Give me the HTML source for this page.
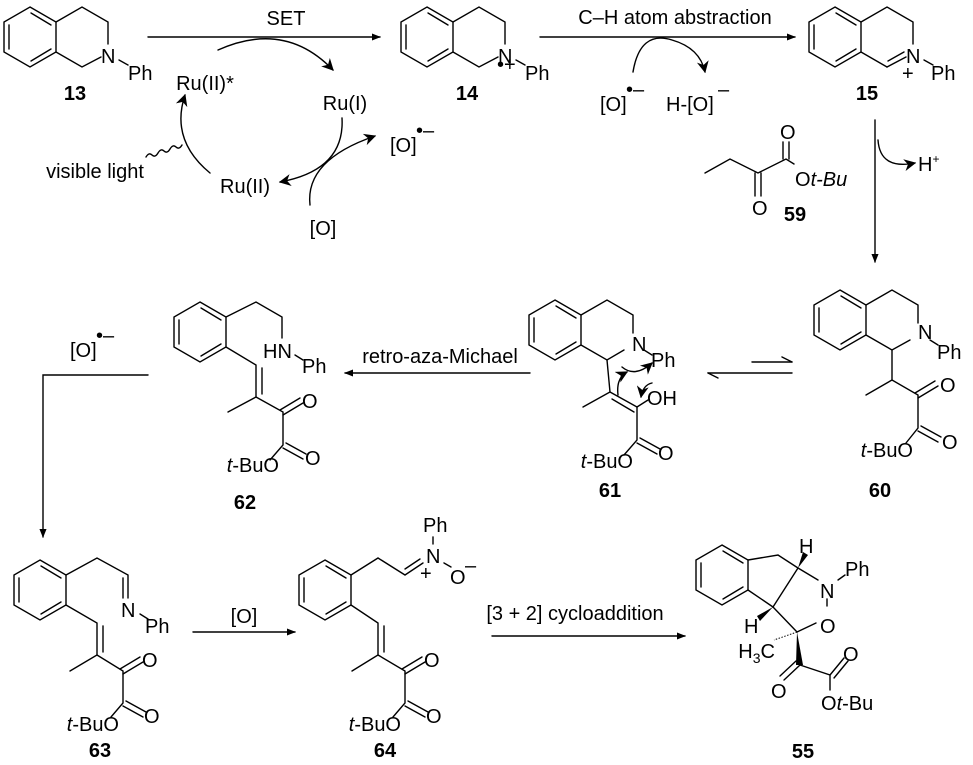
<!DOCTYPE html>
<html><head><meta charset="utf-8"><style>
html,body{margin:0;padding:0;background:#fff}
svg{display:block}
text{font-family:"Liberation Sans",Arial,sans-serif;font-size:20px;fill:#000}
.b{font-weight:bold}
</style></head><body>
<svg width="973" height="765" viewBox="0 0 973 765" xmlns="http://www.w3.org/2000/svg">
<defs>
<marker id="ah" viewBox="0 0 10 10" refX="9" refY="5" markerWidth="9" markerHeight="9" markerUnits="userSpaceOnUse" orient="auto"><path d="M0,1 L10,5 L0,9 z" fill="#000"/></marker>
<marker id="ac" viewBox="0 0 10 10" refX="9" refY="5" markerWidth="14" markerHeight="12" markerUnits="userSpaceOnUse" orient="auto"><path d="M0,0 L10,5 L0,10 L3,5 z" fill="#000"/></marker>
</defs>
<g stroke="#000" stroke-width="1.4" fill="none" stroke-linecap="round">
<!-- 13 -->
<polygon points="30,7 56,22 56,52 30,67 4,52 4,22"/>
<line x1="9" y1="25" x2="9" y2="49"/><line x1="31" y1="13" x2="51" y2="25"/><line x1="31" y1="61" x2="51" y2="49"/>
<polyline points="56,22 82,7 108,22 108,44"/><polyline points="56,52 82,67 101,57"/>
<line x1="119" y1="60" x2="128" y2="65"/>
<line x1="148" y1="37" x2="380" y2="37" marker-end="url(#ah)"/>
<path d="M218,50 Q285,20 333,70" marker-end="url(#ac)"/>
<path d="M342,118 Q345,170 280,182" marker-end="url(#ac)"/>
<path d="M210,173 Q170,140 185,95" marker-end="url(#ac)"/>
<path d="M310,205 Q305,160 375,136" marker-end="url(#ac)"/>
<path d="M146,157 q3,-5 6,-2 t6,-2 t6,-2 t6,-2 t6,-2 t6,-2"/>
<!-- 14 -->
<polygon points="427,7 453,22 453,52 427,67 401,52 401,22"/>
<line x1="406" y1="25" x2="406" y2="49"/><line x1="428" y1="13" x2="448" y2="25"/><line x1="428" y1="61" x2="448" y2="49"/>
<polyline points="453,22 479,7 505,22 505,44"/><polyline points="453,52 479,67 498,57"/>
<line x1="516" y1="60" x2="525" y2="65"/>
<line x1="540" y1="37" x2="795" y2="37" marker-end="url(#ah)"/>
<path d="M633,72 Q640,30 672,40 Q700,48 705,72" marker-end="url(#ac)"/>
<!-- 15 -->
<polygon points="835,7 861,22 861,52 835,67 809,52 809,22"/>
<line x1="814" y1="25" x2="814" y2="49"/><line x1="836" y1="13" x2="856" y2="25"/><line x1="836" y1="61" x2="856" y2="49"/>
<polyline points="861,22 887,7 913,22 913,44"/><line x1="861" y1="52" x2="887" y2="67"/>
<line x1="887" y1="67" x2="906" y2="57"/><line x1="888" y1="61" x2="904" y2="52"/>
<line x1="924" y1="60" x2="933" y2="65"/>
<line x1="875" y1="120" x2="875" y2="262" marker-end="url(#ah)"/>
<path d="M878,140 Q880,170 915,163" marker-end="url(#ac)"/>
<!-- 59 -->
<polyline points="705,173 730,159 758,173 786,159 794,164"/>
<line x1="755" y1="173" x2="755" y2="196"/><line x1="761" y1="173" x2="761" y2="196"/>
<line x1="783" y1="159" x2="783" y2="142"/><line x1="789" y1="159" x2="789" y2="142"/>
<!-- 60 -->
<polygon points="840,290 866,305 866,335 840,350 814,335 814,305"/>
<line x1="819" y1="308" x2="819" y2="332"/><line x1="841" y1="296" x2="861" y2="308"/><line x1="841" y1="344" x2="861" y2="332"/>
<polyline points="866,305 892,290 918,305 918,323"/><polyline points="866,335 892,350 910,340"/>
<line x1="930" y1="340" x2="938" y2="345"/>
<polyline points="892,350 892,380 866,395"/><polyline points="892,380 918,395 918,428 906,443"/>
<line x1="918" y1="398" x2="938" y2="386"/><line x1="915" y1="393" x2="935" y2="381"/>
<line x1="918" y1="431" x2="938" y2="442"/><line x1="921" y1="426" x2="941" y2="437"/>
<line x1="752" y1="362" x2="792" y2="362"/><line x1="792" y1="362" x2="782" y2="357"/>
<line x1="708" y1="373" x2="792" y2="373"/><line x1="708" y1="373" x2="718" y2="378"/>
<!-- 61 -->
<polygon points="555,300 581,315 581,345 555,360 529,345 529,315"/>
<line x1="534" y1="318" x2="534" y2="342"/><line x1="556" y1="306" x2="576" y2="318"/><line x1="556" y1="354" x2="576" y2="342"/>
<polyline points="581,315 607,300 633,315 633,333"/><polyline points="581,345 607,360 624,350"/>
<line x1="644" y1="350" x2="652" y2="355"/>
<polyline points="607,360 610,392 583,407"/><line x1="610" y1="392" x2="637" y2="407"/><line x1="612" y1="399" x2="634" y2="412"/>
<polyline points="637,407 648,400"/><polyline points="637,407 637,440 624,455"/>
<line x1="637" y1="443" x2="657" y2="454"/><line x1="640" y1="438" x2="660" y2="449"/>
<path d="M622,367 Q635,378 652,363" marker-end="url(#ac)"/>
<path d="M618,395 Q616,378 627,372" marker-end="url(#ac)"/>
<path d="M652,383 Q643,385 641,397" marker-end="url(#ac)"/>
<line x1="530" y1="373" x2="345" y2="373" marker-end="url(#ah)"/>
<!-- 62 -->
<polygon points="200,302 226,317 226,347 200,362 174,347 174,317"/>
<line x1="179" y1="320" x2="179" y2="344"/><line x1="201" y1="308" x2="221" y2="320"/><line x1="201" y1="356" x2="221" y2="344"/>
<polyline points="226,317 256,302 282,317 282,338"/>
<line x1="295" y1="355" x2="303" y2="360"/>
<polyline points="226,347 256,365 256,397 228,412"/><line x1="262" y1="368" x2="262" y2="394"/>
<polyline points="256,397 283,412 283,445 270,460"/>
<line x1="283" y1="415" x2="303" y2="403"/><line x1="280" y1="410" x2="300" y2="398"/>
<line x1="283" y1="448" x2="303" y2="459"/><line x1="286" y1="443" x2="306" y2="454"/>
<polyline points="148,375 43,375 43,537" marker-end="url(#ah)"/>
<!-- 63 -->
<polygon points="40,560 66,575 66,605 40,620 14,605 14,575"/>
<line x1="19" y1="578" x2="19" y2="602"/><line x1="41" y1="566" x2="61" y2="578"/><line x1="41" y1="614" x2="61" y2="602"/>
<polyline points="66,575 97,558 128,575 128,598"/><line x1="123" y1="578" x2="123" y2="598"/>
<line x1="140" y1="614" x2="148" y2="619"/>
<polyline points="66,605 97,623 97,655 70,671"/><line x1="103" y1="626" x2="103" y2="652"/>
<polyline points="97,655 123,671 123,703 111,717"/>
<line x1="123" y1="674" x2="143" y2="662"/><line x1="120" y1="669" x2="140" y2="657"/>
<line x1="123" y1="706" x2="143" y2="717"/><line x1="126" y1="701" x2="146" y2="712"/>
<line x1="193" y1="632" x2="295" y2="632" marker-end="url(#ah)"/>
<!-- 64 -->
<polygon points="325,560 351,575 351,605 325,620 299,605 299,575"/>
<line x1="304" y1="578" x2="304" y2="602"/><line x1="326" y1="566" x2="346" y2="578"/><line x1="326" y1="614" x2="346" y2="602"/>
<polyline points="351,575 378,558 405,575 423,563"/><line x1="405" y1="569" x2="420" y2="559"/>
<line x1="433" y1="537" x2="433" y2="544"/><line x1="444" y1="563" x2="451" y2="567"/>
<polyline points="351,605 378,623 378,655 352,671"/><line x1="384" y1="626" x2="384" y2="652"/>
<polyline points="378,655 405,671 405,703 393,717"/>
<line x1="405" y1="674" x2="425" y2="662"/><line x1="402" y1="669" x2="422" y2="657"/>
<line x1="405" y1="706" x2="425" y2="717"/><line x1="408" y1="701" x2="428" y2="712"/>
<line x1="492" y1="636" x2="685" y2="636" marker-end="url(#ah)"/>
<!-- 55 -->
<polygon points="722,545 748,560 748,590 722,605 696,590 696,560"/>
<line x1="701" y1="563" x2="701" y2="587"/><line x1="723" y1="551" x2="743" y2="563"/><line x1="723" y1="599" x2="743" y2="587"/>
<polyline points="748,560 778,555 798,568 818,580"/>
<line x1="748" y1="590" x2="773" y2="607"/><line x1="798" y1="568" x2="773" y2="607"/>
<line x1="773" y1="607" x2="797" y2="632"/><line x1="797" y1="632" x2="816" y2="623"/>
<line x1="827" y1="599" x2="827" y2="606"/><line x1="838" y1="580" x2="845" y2="575"/>
<polyline points="800,665 830,675 830,690"/>
<line x1="800" y1="665" x2="784" y2="680"/><line x1="796" y1="661" x2="780" y2="676"/>
<line x1="830" y1="675" x2="844" y2="658"/><line x1="834" y1="678" x2="848" y2="661"/>
</g>
<g fill="#000">
<polygon points="798,568 803,552 808,555"/>
<polygon points="773,607 757,616 760,621"/>
<polygon points="797,632 796,665 803,665"/>
</g>
<g stroke="#000" stroke-width="1" stroke-dasharray="1.5,1.5"><line x1="797" y1="632" x2="774" y2="640"/></g>
<!-- texts -->
<text x="101" y="63">N</text><text x="128" y="80">Ph</text>
<text x="75" y="100" class="b" text-anchor="middle">13</text>
<text x="286" y="25" text-anchor="middle">SET</text>
<text x="205" y="90" text-anchor="middle">Ru(II)*</text>
<text x="345" y="110" text-anchor="middle">Ru(I)</text>
<text x="245" y="193" text-anchor="middle">Ru(II)</text>
<text x="323" y="235" text-anchor="middle">[O]</text>
<text x="390" y="152">[O]</text><text x="416" y="137" font-size="17">•–</text>
<text x="95" y="178" text-anchor="middle">visible light</text>
<text x="498" y="63">N</text><text x="497" y="71" font-size="14">•+</text><text x="525" y="80">Ph</text>
<text x="467" y="100" class="b" text-anchor="middle">14</text>
<text x="675" y="24" text-anchor="middle">C–H atom abstraction</text>
<text x="600" y="111">[O]</text><text x="626" y="96" font-size="17">•–</text>
<text x="666" y="111">H-[O]</text><text x="718" y="96" font-size="17">–</text>
<text x="906" y="63">N</text><text x="902" y="80" font-size="15">+</text><text x="931" y="80">Ph</text>
<text x="867" y="100" class="b" text-anchor="middle">15</text>
<text x="780" y="139">O</text><text x="752" y="215">O</text>
<text x="795" y="186">O<tspan font-style="italic">t-Bu</tspan></text>
<text x="795" y="221" class="b" text-anchor="middle">59</text>
<text x="918" y="339">N</text><text x="937" y="359">Ph</text>
<text x="940" y="392">O</text><text x="942" y="449">O</text>
<text x="913" y="457" text-anchor="end"><tspan font-style="italic">t</tspan>-BuO</text>
<text x="880" y="497" class="b" text-anchor="middle">60</text>
<text x="632" y="351">N</text><text x="651" y="367">Ph</text>
<text x="647" y="405">OH</text><text x="658" y="460">O</text>
<text x="633" y="468" text-anchor="end"><tspan font-style="italic">t</tspan>-BuO</text>
<text x="610" y="497" class="b" text-anchor="middle">61</text>
<text x="440" y="363" text-anchor="middle">retro-aza-Michael</text>
<text x="263" y="358">HN</text><text x="302" y="373">Ph</text>
<text x="302" y="408">O</text><text x="305" y="465">O</text>
<text x="279" y="472" text-anchor="end"><tspan font-style="italic">t</tspan>-BuO</text>
<text x="245" y="509" class="b" text-anchor="middle">62</text>
<text x="70" y="357">[O]</text><text x="96" y="342" font-size="17">•–</text>
<text x="121" y="617">N</text><text x="145" y="633">Ph</text>
<text x="142" y="667">O</text><text x="144" y="723">O</text>
<text x="119" y="731" text-anchor="end"><tspan font-style="italic">t</tspan>-BuO</text>
<text x="100" y="757" class="b" text-anchor="middle">63</text>
<text x="244" y="623" text-anchor="middle">[O]</text>
<text x="423" y="532">Ph</text><text x="426" y="563">N</text><text x="420" y="580" font-size="15">+</text>
<text x="450" y="584">O</text><text x="465" y="572" font-size="16">–</text>
<text x="424" y="667">O</text><text x="426" y="723">O</text>
<text x="401" y="731" text-anchor="end"><tspan font-style="italic">t</tspan>-BuO</text>
<text x="385" y="757" class="b" text-anchor="middle">64</text>
<text x="575" y="620" text-anchor="middle">[3 + 2] cycloaddition</text>
<text x="799" y="553">H</text><text x="845" y="576">Ph</text><text x="820" y="598">N</text>
<text x="820" y="633">O</text><text x="744" y="633">H</text>
<text x="775" y="658" text-anchor="end">H<tspan font-size="14" dy="5">3</tspan><tspan dy="-5">C</tspan></text>
<text x="771" y="698">O</text><text x="843" y="661">O</text>
<text x="821" y="710">O<tspan font-style="italic">t</tspan>-Bu</text>
<text x="803" y="758" class="b" text-anchor="middle">55</text>
<text x="918" y="171">H<tspan font-size="12" dy="-8">+</tspan></text>
</svg>
</body></html>
